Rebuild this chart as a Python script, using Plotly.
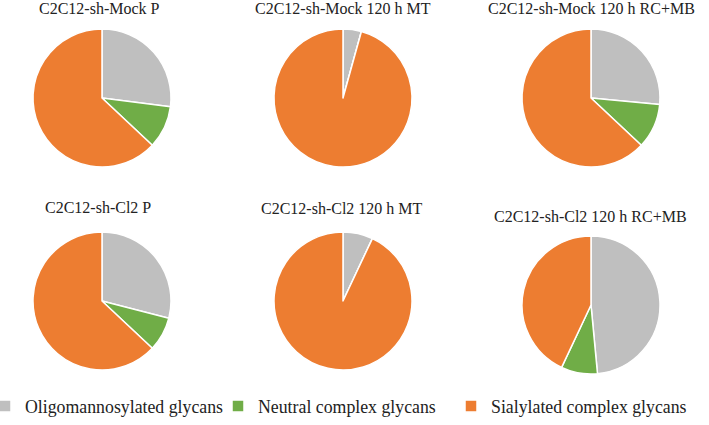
import plotly.graph_objects as go

categories = ["Oligomannosylated glycans", "Neutral complex glycans", "Sialylated complex glycans"]
colors = ["#BFBFBF", "#70AD47", "#ED7D31"]

titles = [
    "C2C12-sh-Mock P", "C2C12-sh-Mock 120 h MT", "C2C12-sh-Mock 120 h RC+MB",
    "C2C12-sh-Cl2 P", "C2C12-sh-Cl2 120 h MT", "C2C12-sh-Cl2 120 h RC+MB",
]
mock_p = [27, 10, 63]
mock_mt = [4.3, 0, 95.7]
mock_rcmb = [26.5, 10.5, 63]
cl2_p = [29, 8, 63]
cl2_mt = [7, 0, 93]
cl2_rcmb = [48.5, 8.5, 43]
series = [mock_p, mock_mt, mock_rcmb, cl2_p, cl2_mt, cl2_rcmb]

W, H = 709, 425
SERIF = "Liberation Serif, Times New Roman, Times, serif"

# layout positions in pixels (from top-left)
centers = [(102, 98), (343, 98), (591, 98), (102, 301), (343, 301), (591, 305)]
R = 69
title_pos = [(99, 9), (343, 9), (591, 9), (98, 207), (342, 208), (590, 216)]


def px_x(x):
    return x / W


def px_y(y):
    return (H - y) / H


fig = go.Figure()
for i, (vals, (cx, cy)) in enumerate(zip(series, centers)):
    fig.add_trace(go.Pie(
        labels=categories, values=vals, sort=False, direction="clockwise", rotation=0,
        marker=dict(colors=colors, line=dict(color="white", width=1.5)),
        textinfo="none", hoverinfo="label+percent",
        domain=dict(x=[px_x(cx - R), px_x(cx + R)], y=[px_y(cy + R), px_y(cy - R)]),
        showlegend=(i == 0),
    ))
    tx, ty = title_pos[i]
    fig.add_annotation(text=titles[i], x=px_x(tx), y=px_y(ty), xref="paper", yref="paper",
                       showarrow=False, xanchor="center", yanchor="middle",
                       font=dict(family=SERIF, size=16, color="#222222"))

fig.update_layout(
    width=W, height=H, margin=dict(l=0, r=0, t=0, b=0),
    paper_bgcolor="white", plot_bgcolor="white",
    legend=dict(orientation="h", x=0, y=0, xanchor="left", yanchor="bottom",
                font=dict(family=SERIF, size=17.8, color="#222222"),
                itemwidth=30, indentation=-15, entrywidth=203, entrywidthmode="pixels",
                traceorder="normal", bgcolor="rgba(0,0,0,0)"),
)
fig.write_html("out.html", config={"displayModeBar": False},
               post_script="document.body.style.margin='0';")
